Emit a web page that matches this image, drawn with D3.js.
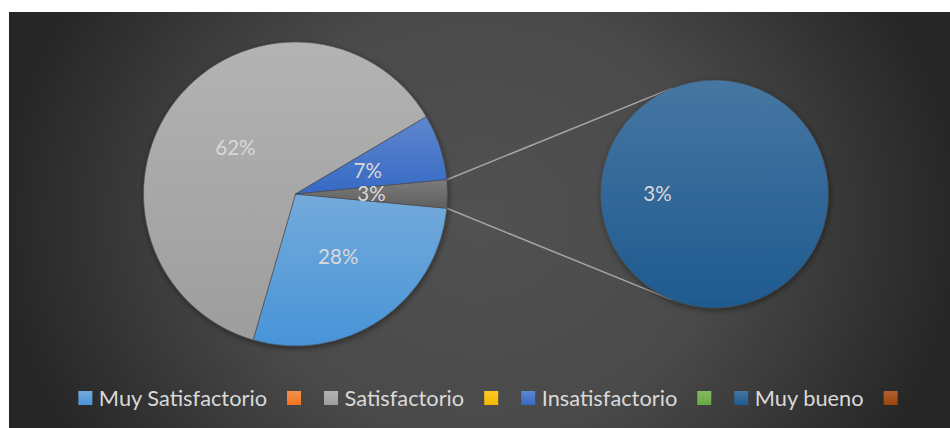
<!DOCTYPE html>
<html>
<head>
<meta charset="utf-8">
<script src="https://cdn.jsdelivr.net/npm/d3@7"></script>
<style>
  html, body { margin: 0; padding: 0; background: #ffffff; }
  svg { display: block; }
</style>
</head>
<body>
<svg id="chart" width="950" height="428"></svg>
<script>
// Survey results: main pie with the smallest answer split into a secondary pie
const categories = ["Muy Satisfactorio", "", "Satisfactorio", "", "Insatisfactorio", "", "Muy bueno", ""];
const values     = [28, 0, 62, 0, 7, 0, 3, 0];
const colors     = ["#5B9BD5", "#ED7D31", "#A5A5A5", "#FFC000", "#4472C4", "#70AD47", "#255E91", "#9E480E"];
const secondCount = 2;          // last entries shown in the secondary pie
const otherColor  = "#646464";  // colour of the combined "other" slice

const svg = d3.select("#chart");
const W = 950, H = 428;
const defs = svg.append("defs");

// vertical light-to-dark gradient for a fill colour
function gradFor(id, c) {
  const g = defs.append("linearGradient").attr("id", id)
    .attr("x1", 0).attr("y1", 0).attr("x2", 0).attr("y2", 1);
  const dark = d3.hsl(c);
  dark.s = Math.min(1, dark.s * 1.1);
  dark.l = dark.l * 0.95;
  g.append("stop").attr("offset", 0).attr("stop-color", d3.interpolateRgb(c, "#ffffff")(0.15));
  g.append("stop").attr("offset", 1).attr("stop-color", dark.formatHex());
  return `url(#${id})`;
}
const fills = colors.map((c, i) => gradFor("g" + i, c));
const otherFill = gradFor("gOther", otherColor);

// chart area background
const bg = defs.append("radialGradient").attr("id", "bg")
  .attr("gradientUnits", "userSpaceOnUse")
  .attr("cx", 480).attr("cy", 220).attr("r", 480)
  .attr("gradientTransform", "translate(480,220) scale(1,0.88) translate(-480,-220)");
bg.append("stop").attr("offset", 0).attr("stop-color", "#515151");
bg.append("stop").attr("offset", 0.5).attr("stop-color", "#4a4a4a");
bg.append("stop").attr("offset", 1).attr("stop-color", "#262626");
svg.append("rect").attr("x", 9).attr("y", 12).attr("width", W - 9).attr("height", H - 12)
  .attr("fill", "url(#bg)");

const shadow = defs.append("filter").attr("id", "shadow")
  .attr("x", "-20%").attr("y", "-20%").attr("width", "140%").attr("height", "140%");
shadow.append("feDropShadow").attr("dx", 1).attr("dy", 2).attr("stdDeviation", 3)
  .attr("flood-color", "#000").attr("flood-opacity", 0.45);

// split data into main and secondary pies
const n = values.length;
const mainIdx = d3.range(0, n - secondCount);
const secIdx = d3.range(n - secondCount, n);
const total = d3.sum(values);
const otherVal = d3.sum(secIdx, i => values[i]);
const mainData = mainIdx.map(i => ({ i, v: values[i], fill: fills[i] }))
  .concat([{ i: -1, v: otherVal, fill: otherFill }]);
const secData = secIdx.map(i => ({ i, v: values[i], fill: fills[i] }));

const fmt = v => Math.round(v / total * 100) + "%";
const labelFont = "Lato, 'Open Sans', sans-serif";

// main pie: "other" slice centred on the right, remaining slices clockwise after it
const c1 = { x: 295.5, y: 194, r: 152 };
const otherAngle = otherVal / total * 2 * Math.PI;
const start1 = Math.PI / 2 + otherAngle / 2;
const pie1 = d3.pie().sort(null).value(d => d.v).startAngle(start1).endAngle(start1 + 2 * Math.PI);
const arc1 = d3.arc().innerRadius(0).outerRadius(c1.r);
const arcs1 = pie1(mainData);

// secondary pie: slices centred on the left side
const c2 = { x: 714.5, y: 194, r: 114 };
const start2 = 3 * Math.PI / 2 - Math.PI;
const pie2 = d3.pie().sort(null).value(d => d.v).startAngle(start2).endAngle(start2 + 2 * Math.PI);
const arc2 = d3.arc().innerRadius(0).outerRadius(c2.r);
const arcs2 = pie2(secData);

// connector lines from the "other" slice edges to tangent points on the secondary pie
const oArc = arcs1[arcs1.length - 1];
function edgePoint(a) {
  return [c1.x + c1.r * Math.sin(a), c1.y - c1.r * Math.cos(a)];
}
function tangentPoint(p, sign) {
  const dx = p[0] - c2.x, dy = p[1] - c2.y;
  const d = Math.hypot(dx, dy);
  const base = Math.atan2(dy, dx);
  const t = Math.acos(c2.r / d);
  const a = base + sign * t;
  return [c2.x + c2.r * Math.cos(a), c2.y + c2.r * Math.sin(a)];
}
const pTop = edgePoint(oArc.startAngle);
const pBot = edgePoint(oArc.endAngle);
const conn = svg.append("g").attr("stroke", "#a6a6a6").attr("stroke-width", 1.5);
[[pTop, tangentPoint(pTop, 1)], [pBot, tangentPoint(pBot, -1)]].forEach(([a, b]) => {
  conn.append("line").attr("x1", a[0]).attr("y1", a[1]).attr("x2", b[0]).attr("y2", b[1]);
});

// draw pies
const g1 = svg.append("g").attr("transform", `translate(${c1.x},${c1.y})`).attr("filter", "url(#shadow)");
g1.selectAll("path").data(arcs1.filter(d => d.data.v > 0)).join("path")
  .attr("d", arc1).attr("fill", d => d.data.fill)
  .attr("stroke", "#4a4a4a").attr("stroke-width", 0.6);

const g2 = svg.append("g").attr("transform", `translate(${c2.x},${c2.y})`).attr("filter", "url(#shadow)");
g2.selectAll("path").data(arcs2.filter(d => d.data.v > 0)).join("path")
  .attr("d", arc2).attr("fill", d => d.data.fill)
  .attr("stroke", "#4a4a4a").attr("stroke-width", 0.6);

// data labels at half radius
function addLabels(g, arcs, arc) {
  g.selectAll("text").data(arcs.filter(d => d.data.v > 0)).join("text")
    .attr("transform", d => `translate(${arc.centroid(d)})`)
    .attr("text-anchor", "middle").attr("dy", "0.35em")
    .attr("font-family", labelFont).attr("font-size", 20.5)
    .attr("fill", "#d9d9d9")
    .text(d => fmt(d.data.v));
}
addLabels(svg.append("g").attr("transform", `translate(${c1.x},${c1.y})`), arcs1, arc1);
addLabels(svg.append("g").attr("transform", `translate(${c2.x},${c2.y})`), arcs2, arc2);

// legend, centred along the bottom
const legend = svg.append("g");
const sw = 14, legendY = 398, legendCx = 488;
let x = 0;
categories.forEach((name, i) => {
  const item = legend.append("g").attr("transform", `translate(${x},0)`);
  item.append("rect").attr("x", 0).attr("y", legendY - sw / 2).attr("width", sw).attr("height", sw)
    .attr("fill", fills[i]);
  if (name) {
    const t = item.append("text").attr("x", sw + 6.5).attr("y", legendY).attr("dy", "0.35em")
      .attr("font-family", labelFont).attr("font-size", 21.8).attr("fill", "#d9d9d9").text(name);
    x += sw + 6.5 + t.node().getComputedTextLength() + 20;
  } else {
    x += 37;
  }
});
const lw = x - 23;
legend.attr("transform", `translate(${legendCx - lw / 2},0)`);
</script>
</body>
</html>
